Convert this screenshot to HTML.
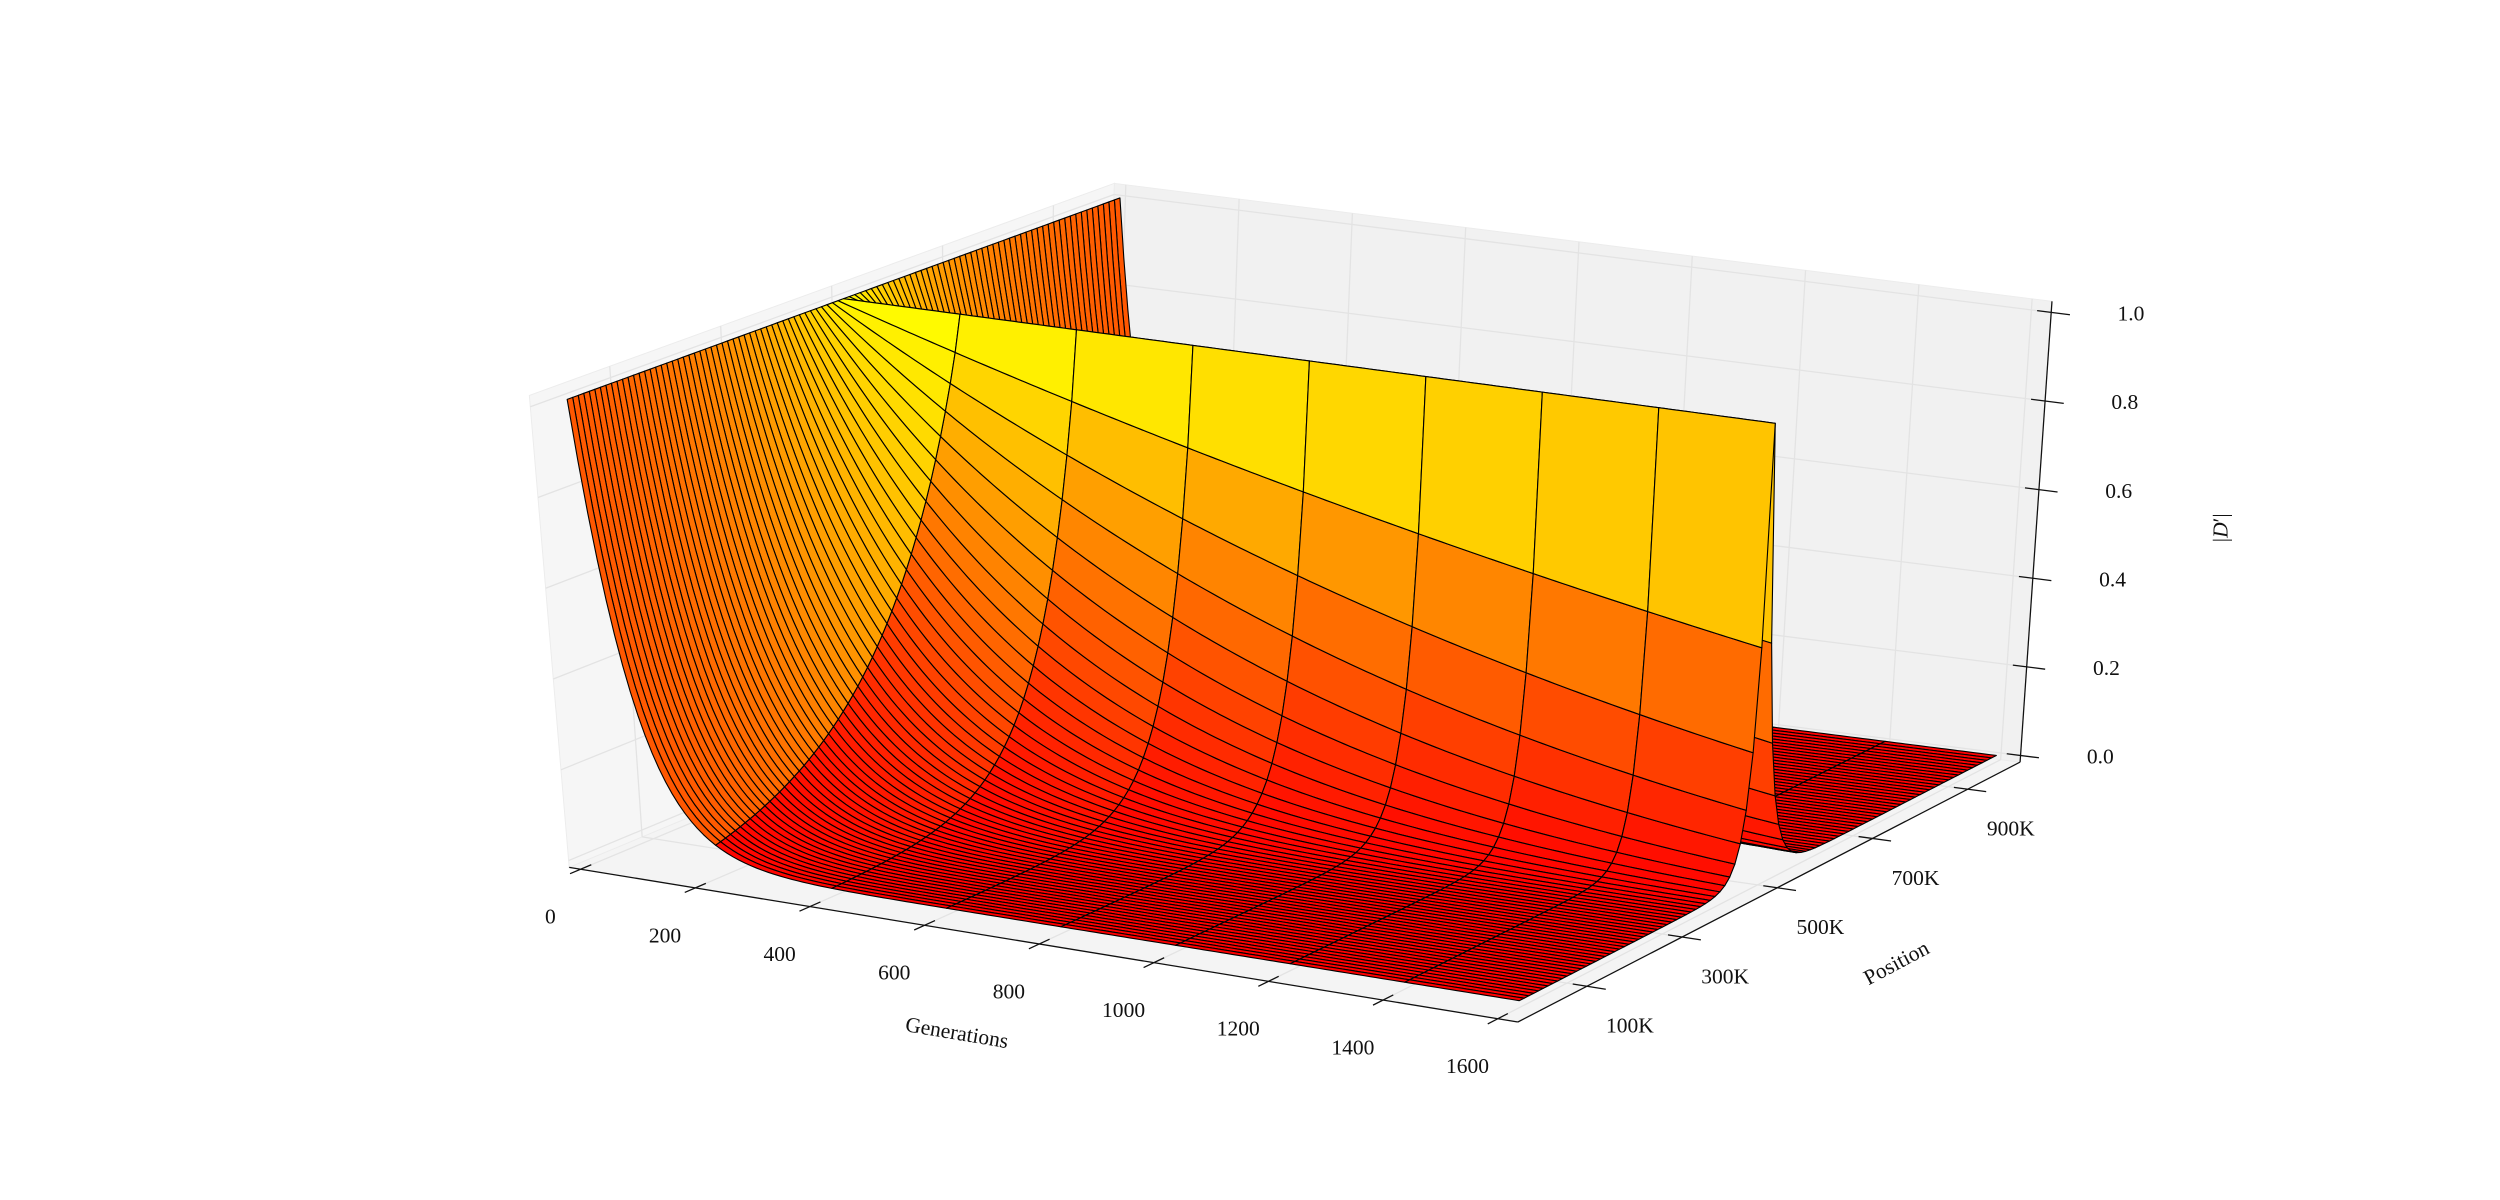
<!DOCTYPE html>
<html><head><meta charset="utf-8"><title>|D'| surface</title>
<style>
html,body{margin:0;padding:0;background:#fff;}
svg{display:block;}
text{font-family:"Liberation Serif","DejaVu Serif",serif;fill:#111;}
</style></head>
<body>
<svg id="chart" width="2500" height="1200" viewBox="0 0 1568 752.64" xmlns="http://www.w3.org/2000/svg">
<g id="panes"></g>
<g id="grid"></g>
<g id="axes"></g>
<g id="surface"></g>
<g id="labels"></g>
</svg>
<script>
// ---- data ----
const generationTicks = [0, 200, 400, 600, 800, 1000, 1200, 1400, 1600];
const positionTickK = [100, 300, 500, 700, 900];
const positionTickLabels = ["100K", "300K", "500K", "700K", "900K"];
const zTicks = [0.0, 0.2, 0.4, 0.6, 0.8, 1.0];
const zTickLabels = ["0.0", "0.2", "0.4", "0.6", "0.8", "1.0"];
const cellGenerations = [0, 200, 400, 600, 800, 1000, 1200, 1400, 1600];
const positionsK = [0,10,20,30,40,50,60,70,80,90,100,110,120,130,140,150,160,170,180,190,200,210,220,230,240,250,260,270,280,290,300,310,320,330,340,350,360,370,380,390,400,410,420,430,440,450,460,470,480,490,500,510,520,530,540,550,560,570,580,590,600,610,620,630,640,650,660,670,680,690,700,710,720,730,740,750,760,770,780,790,800,810,820,830,840,850,860,870,880,890,900,910,920,930,940,950,960,970,980,990,1000];
// per-generation decay of |D'| at each position (x 1e-3)
const decayRateByPosition = [14.165,13.911,13.658,13.400,13.142,12.885,12.627,12.370,12.113,11.851,11.590,11.329,11.067,10.806,10.542,10.276,10.011,9.746,9.483,9.213,8.944,8.677,8.409,8.137,7.865,7.594,7.318,7.043,6.769,6.490,6.211,5.931,5.649,5.366,5.081,4.794,4.506,4.215,3.923,3.627,3.328,3.027,2.723,2.414,2.102,1.783,1.459,1.126,0.782,0.419,0,0.419,0.782,1.126,1.459,1.783,2.102,2.414,2.723,3.027,3.328,3.627,3.923,4.215,4.506,4.794,5.081,5.366,5.649,5.931,6.211,6.490,6.769,7.043,7.318,7.594,7.865,8.137,8.409,8.677,8.944,9.213,9.483,9.746,10.011,10.276,10.542,10.806,11.067,11.329,11.590,11.851,12.113,12.370,12.627,12.885,13.142,13.400,13.658,13.911,14.165];

// ---- projection ----
const GMIN = -20, GMAX = 1635, PMIN = -45, PMAX = 1010, ZMIN = -0.015, ZMAX = 1.025;
const CA = [357,544], CB = [952,641], CC = [1267,478], CD = [690,405];
const TA = [332,248], TB = [955,336], TC = [1287,189], TD = [699,115];
function gU(g){ return (g-GMIN)/(GMAX-GMIN); }
function pV(p){ return (p-PMIN)/(PMAX-PMIN); }
function zW(z){ return (z-ZMIN)/(ZMAX-ZMIN); }
function bil(P,Q,R,S,u,v,i){ return P[i]*(1-u)*(1-v)+Q[i]*u*(1-v)+R[i]*u*v+S[i]*(1-u)*v; }
function proj(u,v,w){
  const fx=bil(CA,CB,CC,CD,u,v,0), fy=bil(CA,CB,CC,CD,u,v,1);
  const tx=bil(TA,TB,TC,TD,u,v,0), ty=bil(TA,TB,TC,TD,u,v,1);
  return [fx*(1-w)+tx*w, fy*(1-w)+ty*w];
}
function depth(u,v,w){ return 0.96*(0.46*u-0.88*v)+0.29*w; }
const NS = "http://www.w3.org/2000/svg";
function mk(tag, parent, attrs){
  const e = document.createElementNS(NS, tag);
  for (const k in attrs) e.setAttribute(k, attrs[k]);
  parent.appendChild(e);
  return e;
}
function pts(arr){ return arr.map(q=>q[0].toFixed(2)+","+q[1].toFixed(2)).join(" "); }

// ---- panes ----
const panes = document.getElementById("panes");
let pe;
pe = mk("polygon", panes, {points: pts([proj(0,0,0),proj(1,0,0),proj(1,1,0),proj(0,1,0)]), fill:"#f4f4f4", stroke:"#ececec", "stroke-width":0.6});


pe = mk("polygon", panes, {points: pts([proj(0,0,0),proj(0,1,0),proj(0,1,1),proj(0,0,1)]), fill:"#f6f6f6", stroke:"#ececec", "stroke-width":0.6});


pe = mk("polygon", panes, {points: pts([proj(0,1,0),proj(1,1,0),proj(1,1,1),proj(0,1,1)]), fill:"#f1f1f1", stroke:"#ececec", "stroke-width":0.6});



// ---- grid ----
const grid = document.getElementById("grid");
function gl(a,b,name){
  const l = mk("line", grid, {x1:a[0],y1:a[1],x2:b[0],y2:b[1],stroke:"#e3e3e3","stroke-width":0.8});
  
  
}
generationTicks.forEach(g=>{
  const u=gU(g);
  gl(proj(u,0,0),proj(u,1,0),'generation-gridline');
  gl(proj(u,1,0),proj(u,1,1),'generation-gridline');
});
positionTickK.forEach(p=>{
  const v=pV(p);
  gl(proj(0,v,0),proj(1,v,0),'position-gridline');
  gl(proj(0,v,0),proj(0,v,1),'position-gridline');
});
zTicks.forEach(z=>{
  const w=zW(z);
  gl(proj(0,0,w),proj(0,1,w),'z-gridline');
  gl(proj(0,1,w),proj(1,1,w),'z-gridline');
});

// ---- axes ----
const axes = document.getElementById("axes");
function al(a,b,name){
  const l = mk("line", axes, {x1:a[0],y1:a[1],x2:b[0],y2:b[1],stroke:"#111","stroke-width":0.8});
  
  
}
al(proj(0,0,0),proj(1,0,0),'generations-axis-line');
al(proj(1,0,0),proj(1,1,0),'position-axis-line');
al(proj(1,1,0),proj(1,1,1),'z-axis-line');
generationTicks.forEach(g=>{ const u=gU(g); al(proj(u,-0.02,0),proj(u,0.02,0),'generations-tick'); });
positionTickK.forEach(p=>{ const v=pV(p); al(proj(0.985,v,0),proj(1.02,v,0),'position-tick'); });
zTicks.forEach(z=>{ const w=zW(z); al(proj(0.985,1,w),proj(1.02,1,w),'z-tick'); });

// ---- surface ----
const surf = document.getElementById("surface");
const polys = [];
const SUB = 20;
function dval(gi, pi){ return Math.pow(1 - decayRateByPosition[pi]/1000, gi); }
for (let pi=0; pi<positionsK.length-1; pi++){
  for (let ci=0; ci<cellGenerations.length-1; ci++){
    const g0=cellGenerations[ci], g1=cellGenerations[ci+1];
    const p0=positionsK[pi], p1=positionsK[pi+1];
    const verts=[];
    for (let k=0;k<=SUB;k++){ const g=g0+(g1-g0)*k/SUB; verts.push([g,p0,dval(g,pi)]); }
    for (let k=SUB;k>=0;k--){ const g=g0+(g1-g0)*k/SUB; verts.push([g,p1,dval(g,pi+1)]); }
    let zs=0, ds=0;
    const sp = verts.map(q=>{ const u=gU(q[0]),v=pV(q[1]),w=zW(q[2]); zs+=q[2]; ds+=depth(u,v,w); return proj(u,v,w); });
    polys.push({sp, z: zs/verts.length, d: ds/verts.length});
  }
}
polys.sort((a,b)=>a.d-b.d);
polys.forEach(pl=>{
  const c = Math.max(0, Math.min(1, pl.z));
  const e = mk("polygon", surf, {points: pts(pl.sp), fill:"rgb(255,"+Math.round(255*c)+",0)", stroke:"#000","stroke-width":0.7,"stroke-linejoin":"round"});
  
  
});

// ---- labels ----
const labels = document.getElementById("labels");
function tx(x,y,s,name,extra){
  const t = mk("text", labels, Object.assign({x:x,y:y,"font-size":13.5,"text-anchor":"middle","dominant-baseline":"middle"}, extra||{}));
  t.textContent = s;
  
  
  return t;
}
generationTicks.forEach(g=>{ const q=proj(gU(g),0,0); tx(q[0]-19,q[1]+31,String(g),'generations-tick-label'); });
positionTickK.forEach((p,i)=>{ const q=proj(1,pV(p),0); tx(q[0]+27,q[1]+26,positionTickLabels[i],'position-tick-label'); });
zTicks.forEach((z,i)=>{ const q=proj(1,1,zW(z)); tx(q[0]+50,q[1]+2,zTickLabels[i],'z-tick-label'); });
tx(600,649,"Generations",'generations-axis-title',{transform:"rotate(9.5 600 649)"});
tx(1190,605,"Position",'position-axis-title',{transform:"rotate(-28 1190 605)"});
const zt = tx(1394,331,"",'z-axis-title',{transform:"rotate(-90 1394 331)"});
zt.innerHTML = '|<tspan font-style="italic">D</tspan>′|';
</script>
</body></html>
